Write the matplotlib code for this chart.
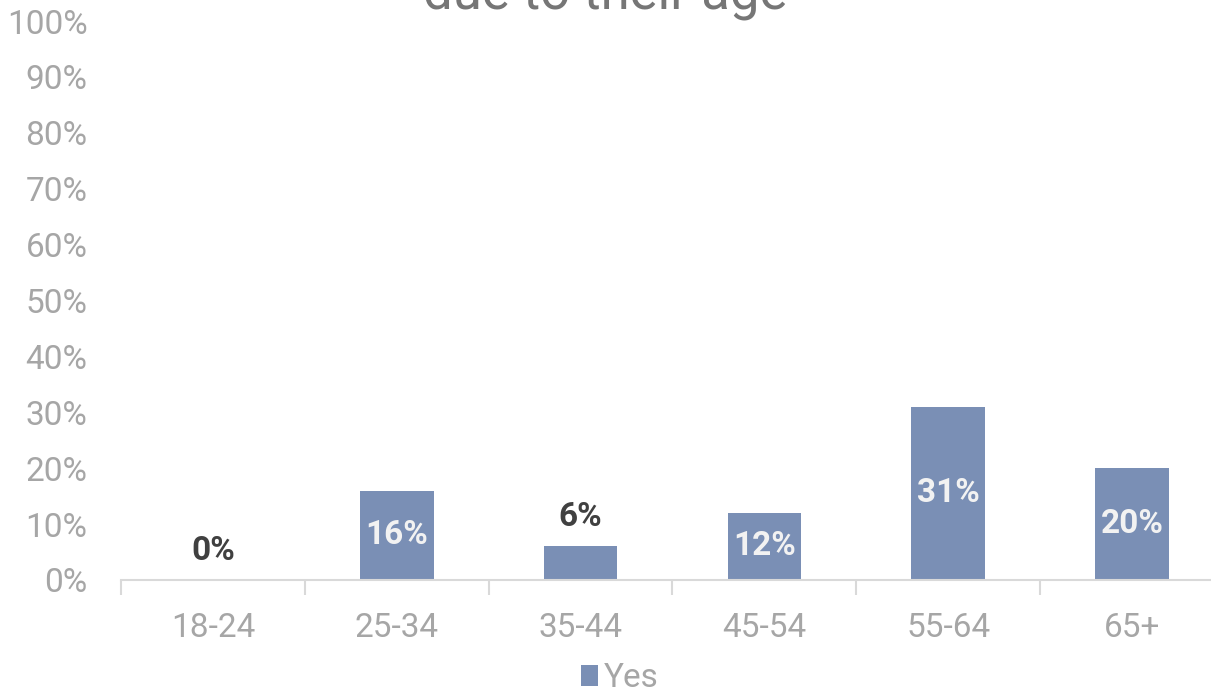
import matplotlib.pyplot as plt
import numpy as np

plt.rcParams['font.family'] = ['Roboto', 'DejaVu Sans']

ages = ['18-24', '25-34', '35-44', '45-54', '55-64', '65+']
yes_pct = [0, 16, 6, 12, 31, 20]
yticks = list(range(0, 101, 10))

bar_color = '#7a8fb5'
grey_text = '#a6a6a6'
axis_grey = '#d9d9d9'


def main():
    fig = plt.figure(figsize=(12.11, 6.95), dpi=100)
    ax = fig.add_axes([121 / 1211, 115 / 695, 1103 / 1211, 559 / 695])
    ax.patch.set_alpha(0)

    x = np.arange(len(ages))
    bars = ax.bar(x, yes_pct, width=0.4, color=bar_color, label='Yes', zorder=2)

    ax.set_xlim(-0.5, len(ages) - 0.5)
    ax.set_ylim(0, 100)
    ax.set_yticks(yticks)
    ax.set_yticklabels([f'{t}%' for t in yticks])
    ax.set_xticks(x)
    ax.set_xticklabels(ages)
    ax.set_xticks(np.arange(len(ages) + 1) - 0.5, minor=True)

    for s in ['top', 'right', 'left']:
        ax.spines[s].set_visible(False)
    ax.spines['bottom'].set_color(axis_grey)
    ax.spines['bottom'].set_linewidth(1.5)

    ax.tick_params(axis='y', length=0, pad=24, labelsize=24, labelcolor=grey_text)
    ax.tick_params(axis='x', which='major', length=0, pad=23, labelsize=24,
                   labelcolor=grey_text)
    ax.tick_params(axis='x', which='minor', length=11, width=1.5, color=axis_grey)

    # labels go inside tall bars, above short ones
    for b, v in zip(bars, yes_pct):
        cx = b.get_x() + b.get_width() / 2
        if v >= 10:
            ax.text(cx, v / 2, f'{v}%', ha='center', va='center', fontsize=24,
                    fontweight='bold', color='#f2f2f2')
        else:
            ax.text(cx, v + 2.4, f'{v}%', ha='center', va='bottom', fontsize=24,
                    fontweight='bold', color='#404040')

    fig.text(0.5, 1 - 8 / 695, 'due to their age', ha='center', va='baseline',
             fontsize=38, color='#767676')

    leg = fig.legend(loc='center', bbox_to_anchor=(620 / 1211, 1 - 678 / 695),
                     frameon=False, fontsize=24, handlelength=0.5, handleheight=0.6,
                     handletextpad=0.2)
    for t in leg.get_texts():
        t.set_color(grey_text)

    fig.savefig('out.png', dpi=100)


if __name__ == "__main__":
    main()
